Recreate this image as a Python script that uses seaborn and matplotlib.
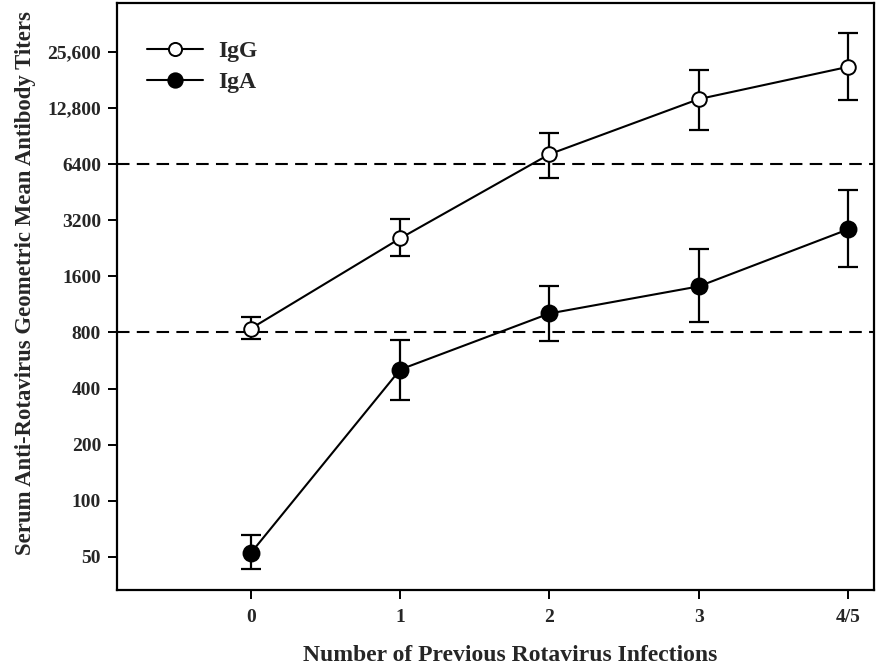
import matplotlib
matplotlib.use("Agg")
import matplotlib.pyplot as plt
from matplotlib.ticker import FixedLocator, NullLocator
import seaborn as sns
import pandas as pd
import numpy as np

categories = ["0", "1", "2", "3", "4/5"]
igg_mean = [840, 2560, 7240, 14300, 21300]
igg_low = [734, 2050, 5380, 9750, 14130]
igg_high = [963, 3240, 9400, 20500, 32400]
iga_mean = [52.5, 506, 1012, 1414, 2860]
iga_low = [43.2, 349, 716, 906, 1790]
iga_high = [65.6, 725, 1414, 2235, 4640]
ref_lines = [6400, 800]
ytick_values = [50, 100, 200, 400, 800, 1600, 3200, 6400, 12800, 25600]
ytick_labels = ["50", "100", "200", "400", "800", "1600", "3200", "6400", "12,800", "25,600"]

sns.set_theme(style="ticks")
plt.rcParams["font.family"] = ["Liberation Serif", "DejaVu Serif"]
plt.rcParams["font.weight"] = "bold"

fig = plt.figure(figsize=(8.81, 6.71), dpi=100)
ax = fig.add_axes([117/881, 1 - 590/671, (874 - 117)/881, (590 - 3)/671])

pos = np.arange(len(categories))
df = pd.DataFrame({
    "pos": np.concatenate([pos, pos]),
    "titer": igg_mean + iga_mean,
    "Ig": ["IgG"] * 5 + ["IgA"] * 5,
})

for name, low, high, fc in [("IgG", igg_low, igg_high, "white"),
                            ("IgA", iga_low, iga_high, "black")]:
    sub = df[df["Ig"] == name]
    m = sub["titer"].to_numpy()
    ax.errorbar(sub["pos"], m, yerr=[m - np.array(low), np.array(high) - m],
                fmt="none", ecolor="black", elinewidth=1.6, capsize=7, capthick=1.6, zorder=2)
    sns.lineplot(data=sub, x="pos", y="titer", ax=ax, color="black", linewidth=1.5,
                 marker="o", markersize=10.5 if name == "IgG" else 11.5,
                 markerfacecolor=fc, markeredgecolor="black", markeredgewidth=1.4,
                 label=name, zorder=3)

for v in ref_lines:
    ax.axhline(v, color="black", linestyle=(0, (6, 3.5)), linewidth=1.5, zorder=1)

ax.set_yscale("log", base=2)
ax.set_ylim(50 / 2 ** 0.59, 25600 * 2 ** 0.873)
ax.set_xlim(-0.897, 4.174)
ax.yaxis.set_major_locator(FixedLocator(ytick_values))
ax.yaxis.set_minor_locator(NullLocator())
ax.set_yticks(ytick_values)
ax.set_yticklabels(ytick_labels, fontsize=14, fontweight="bold")
ax.set_xticks(pos)
ax.set_xticklabels(categories, fontsize=14, fontweight="bold")
ax.tick_params(axis="y", direction="out", length=6.5, width=1.4, color="black", pad=5)
ax.tick_params(axis="x", direction="out", length=6.5, width=1.4, color="black", pad=7)

for s in ax.spines.values():
    s.set_visible(True)
    s.set_linewidth(1.6)
    s.set_color("black")

ax.set_xlabel("Number of Previous Rotavirus Infections", fontsize=17, fontweight="bold")
ax.set_ylabel("Serum Anti-Rotavirus Geometric Mean Antibody Titers", fontsize=16.4, fontweight="bold")
ax.xaxis.set_label_coords(0.52, -0.094)
ax.yaxis.set_label_coords(-0.107, 0.523)

leg = ax.legend(loc="upper left", bbox_to_anchor=(0.011, 0.972), frameon=False,
                prop={"family": "Liberation Serif", "weight": "bold", "size": 17},
                handlelength=2.4, handletextpad=0.64, labelspacing=0.4, markerscale=0.9)

fig.savefig("out.png", dpi=100)
